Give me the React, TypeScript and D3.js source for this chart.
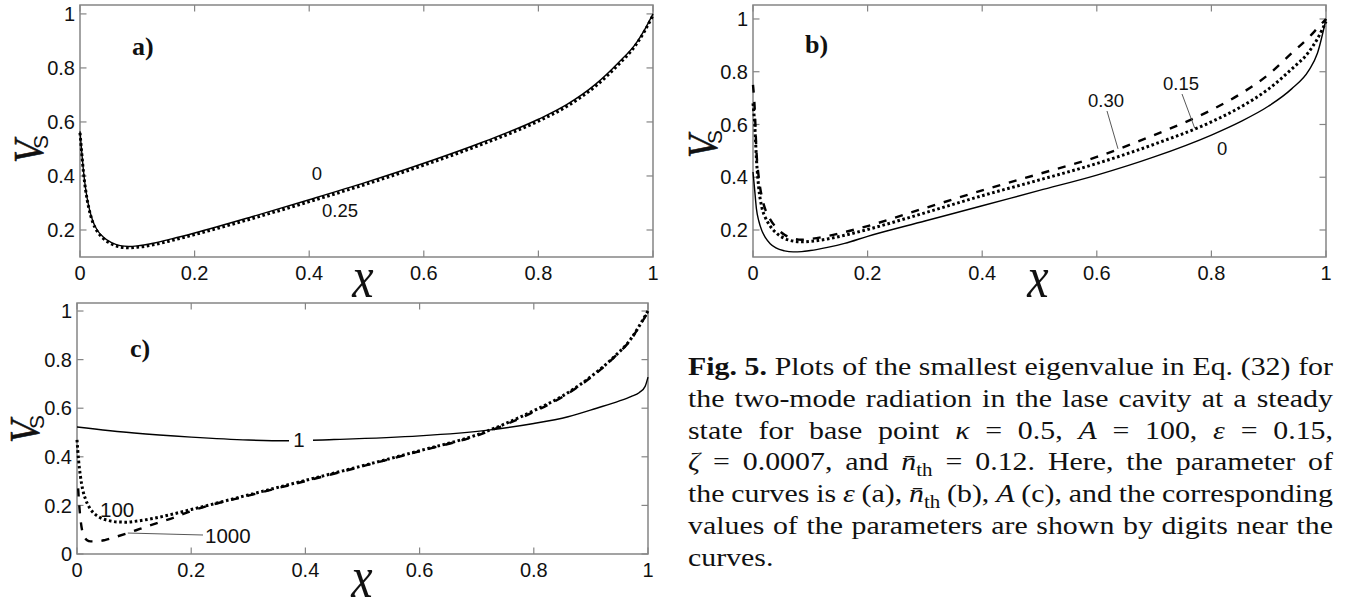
import React, { useEffect, useRef } from "react";
import * as d3 from "d3";

// ---------- data ----------
// common x grid for most curves
const gridX = [0, 0.003, 0.006, 0.01, 0.015, 0.022, 0.03, 0.04, 0.055, 0.07, 0.085, 0.1, 0.13, 0.16, 0.2, 0.3, 0.4, 0.5, 0.6, 0.7, 0.8, 0.85, 0.9, 0.94, 0.97, 0.985, 1];

const xTicks = [0, 0.2, 0.4, 0.6, 0.8, 1];
const xTickLabels = ["0", "0.2", "0.4", "0.6", "0.8", "1"];
const yTicksAB = [0.2, 0.4, 0.6, 0.8, 1];
const yTickLabelsAB = ["0.2", "0.4", "0.6", "0.8", "1"];
const yTicksC = [0, 0.2, 0.4, 0.6, 0.8, 1];
const yTickLabelsC = ["0", "0.2", "0.4", "0.6", "0.8", "1"];

// panel a: parameter ε
const aParams = ["0", "0.25"];
const aEps0 = [0.565, 0.49, 0.42, 0.35, 0.29, 0.235, 0.2, 0.175, 0.153, 0.142, 0.139, 0.141, 0.152, 0.167, 0.189, 0.249, 0.312, 0.377, 0.447, 0.523, 0.61, 0.665, 0.74, 0.82, 0.89, 0.94, 1.0];
const aEps25 = [0.56, 0.485, 0.415, 0.345, 0.285, 0.23, 0.195, 0.17, 0.148, 0.137, 0.134, 0.136, 0.146, 0.161, 0.183, 0.242, 0.305, 0.37, 0.44, 0.516, 0.603, 0.658, 0.733, 0.813, 0.885, 0.935, 0.995];

// panel b: parameter n̄th
const bParams = ["0", "0.15", "0.30"];
const bNth0 = [0.42, 0.35, 0.28, 0.235, 0.2, 0.17, 0.148, 0.132, 0.121, 0.117, 0.118, 0.122, 0.134, 0.149, 0.176, 0.234, 0.292, 0.35, 0.408, 0.477, 0.56, 0.61, 0.67, 0.735, 0.805, 0.87, 1.0];
const bNth15 = [0.68, 0.6, 0.47, 0.36, 0.29, 0.245, 0.215, 0.19, 0.168, 0.158, 0.155, 0.157, 0.166, 0.18, 0.202, 0.265, 0.33, 0.39, 0.452, 0.525, 0.61, 0.665, 0.735, 0.81, 0.875, 0.925, 0.99];
const bNth30 = [0.75, 0.66, 0.5, 0.4, 0.33, 0.275, 0.24, 0.21, 0.182, 0.168, 0.163, 0.166, 0.177, 0.192, 0.215, 0.283, 0.35, 0.413, 0.477, 0.56, 0.655, 0.715, 0.79, 0.87, 0.93, 0.965, 1.0];

// panel c: parameter A
const cParams = ["1", "100", "1000"];
const cA1X = [0, 0.1, 0.2, 0.3, 0.37, 0.45, 0.6, 0.72, 0.8, 0.86, 0.91, 0.95, 0.97, 0.985, 0.995, 1];
const cA1 = [0.523, 0.498, 0.481, 0.469, 0.466, 0.471, 0.486, 0.51, 0.537, 0.565, 0.6, 0.63, 0.648, 0.665, 0.69, 0.728];
const cA100 = [0.47, 0.38, 0.32, 0.265, 0.225, 0.19, 0.167, 0.15, 0.138, 0.132, 0.131, 0.134, 0.145, 0.16, 0.183, 0.243, 0.303, 0.363, 0.425, 0.49, 0.59, 0.65, 0.73, 0.81, 0.885, 0.94, 1.0];
const cA1000X = [0.002, 0.005, 0.008, 0.012, 0.017, 0.024, 0.035, 0.05, 0.07, 0.09, 0.11, 0.14, 0.17, 0.2, 0.3, 0.4, 0.5, 0.6, 0.7, 0.8, 0.85, 0.9, 0.94, 0.97, 0.985, 1];
const cA1000 = [0.27, 0.17, 0.11, 0.075, 0.058, 0.052, 0.052, 0.058, 0.072, 0.087, 0.103, 0.127, 0.15, 0.177, 0.24, 0.3, 0.361, 0.423, 0.487, 0.585, 0.646, 0.727, 0.808, 0.883, 0.937, 0.997];

// caption, one array of words per line; a word is a list of [text, style] pieces
type Piece = [string, string];
const captionLines: Piece[][][] = [
  [[["Fig.", "b"]], [["5.", "b"]], [["Plots", ""]], [["of", ""]], [["the", ""]], [["smallest", ""]], [["eigenvalue", ""]], [["in", ""]], [["Eq.", ""]], [["(32)", ""]], [["for", ""]]],
  [[["the", ""]], [["two-mode", ""]], [["radiation", ""]], [["in", ""]], [["the", ""]], [["lase", ""]], [["cavity", ""]], [["at", ""]], [["a", ""]], [["steady", ""]]],
  [[["state", ""]], [["for", ""]], [["base", ""]], [["point", ""]], [["κ", "i"]], [["=", ""]], [["0.5,", ""]], [["A", "i"]], [["=", ""]], [["100,", ""]], [["ε", "i"]], [["=", ""]], [["0.15,", ""]]],
  [[["ζ", "i"]], [["=", ""]], [["0.0007,", ""]], [["and", ""]], [["n\u0304", "i"], ["th", "sub"]], [["=", ""]], [["0.12.", ""]], [["Here,", ""]], [["the", ""]], [["parameter", ""]], [["of", ""]]],
  [[["the", ""]], [["curves", ""]], [["is", ""]], [["ε", "i"]], [["(a),", ""]], [["n\u0304", "i"], ["th", "sub"]], [["(b),", ""]], [["A", "i"]], [["(c),", ""]], [["and", ""]], [["the", ""]], [["corresponding", ""]]],
  [[["values", ""]], [["of", ""]], [["the", ""]], [["parameters", ""]], [["are", ""]], [["shown", ""]], [["by", ""]], [["digits", ""]], [["near", ""]], [["the", ""]]],
  [[["curves.", ""]]],
];

// ---------- styling ----------
const SERIF = "'Liberation Serif', 'Times New Roman', serif";
const SANS = "'Liberation Sans', Arial, sans-serif";
const FRAME = "#858585";
const INK = "#111";

type LineStyle = "solid" | "dotted" | "dashed";
const styleAttrs = (s: LineStyle) =>
  s === "solid"
    ? { strokeWidth: 1.4, strokeDasharray: undefined }
    : s === "dotted"
    ? { strokeWidth: 3, strokeDasharray: "2.6 2.6" }
    : { strokeWidth: 2.4, strokeDasharray: "8 9" };

function interp(xs: number[], ys: number[], x: number) {
  const i = Math.max(1, d3.bisectLeft(xs, x));
  const t = (x - xs[i - 1]) / (xs[i] - xs[i - 1]);
  return ys[i - 1] + t * (ys[i] - ys[i - 1]);
}

type PanelDef = {
  x0: number; x1: number; y0: number; y1: number;
  yDomain: [number, number];
  yTicks: number[]; yTickLabels: string[];
};

const panelA: PanelDef = { x0: 80, x1: 653, y0: 5, y1: 257, yDomain: [0.1, 1.033], yTicks: yTicksAB, yTickLabels: yTickLabelsAB };
const panelB: PanelDef = { x0: 753, x1: 1326, y0: 5, y1: 257, yDomain: [0.0976, 1.053], yTicks: yTicksAB, yTickLabels: yTickLabelsAB };
const panelC: PanelDef = { x0: 77, x1: 648, y0: 303, y1: 554, yDomain: [0, 1.033], yTicks: yTicksC, yTickLabels: yTickLabelsC };

function scales(p: PanelDef) {
  const x = d3.scaleLinear().domain([0, 1]).range([p.x0, p.x1]);
  const y = d3.scaleLinear().domain(p.yDomain).range([p.y1, p.y0]);
  return { x, y };
}

function Frame({ p }: { p: PanelDef }) {
  const { x, y } = scales(p);
  const tl = 6.5;
  return (
    <g>
      <rect x={p.x0} y={p.y0} width={p.x1 - p.x0} height={p.y1 - p.y0} fill="none" stroke={FRAME} strokeWidth={1.5} />
      {xTicks.map((v) => (
        <g key={"xt" + v} stroke={FRAME} strokeWidth={1.2}>
          <line x1={x(v)} x2={x(v)} y1={p.y1} y2={p.y1 - tl} />
          <line x1={x(v)} x2={x(v)} y1={p.y0} y2={p.y0 + tl} />
        </g>
      ))}
      {p.yTicks.map((v) => (
        <g key={"yt" + v} stroke={FRAME} strokeWidth={1.2}>
          <line x1={p.x0} x2={p.x0 + tl} y1={y(v)} y2={y(v)} />
          <line x1={p.x1} x2={p.x1 - tl} y1={y(v)} y2={y(v)} />
        </g>
      ))}
      {xTicks.map((v, i) => (
        <text key={"xl" + v} x={x(v)} y={p.y1 + 23} textAnchor="middle" fontFamily={SANS} fontSize={20} fill={INK}>
          {xTickLabels[i]}
        </text>
      ))}
      {p.yTicks.map((v, i) => (
        <text key={"yl" + v} x={p.x0 - 5} y={y(v)} dy="0.36em" textAnchor="end" fontFamily={SANS} fontSize={20} fill={INK}>
          {p.yTickLabels[i]}
        </text>
      ))}
    </g>
  );
}

function Curve({ p, xs, ys, s }: { p: PanelDef; xs: number[]; ys: number[]; s: LineStyle }) {
  const { x, y } = scales(p);
  const gen = d3
    .line<number>()
    .x((_, i) => x(xs[i]))
    .y((d) => y(d))
    .curve(d3.curveMonotoneX);
  const a = styleAttrs(s);
  return <path d={gen(ys) || ""} fill="none" stroke="#000" strokeWidth={a.strokeWidth} strokeDasharray={a.strokeDasharray} />;
}

function YLabel({ bx, by }: { bx: number; by: number }) {
  return (
    <g fill={INK}>
      <text transform={`translate(${bx},${by}) rotate(-90) scale(0.88,1)`} fontFamily={SERIF} fontStyle="italic" fontSize={42} stroke={INK} strokeWidth={0.6}>
        V
      </text>
      <text transform={`translate(${bx + 5},${by - 14}) rotate(-90)`} fontFamily={SANS} fontSize={21}>
        S
      </text>
    </g>
  );
}

function XLabel({ cx, by }: { cx: number; by: number }) {
  return (
    <text transform={`translate(${cx},${by}) scale(0.8,1)`} textAnchor="middle" fontFamily={SERIF} fontStyle="italic" fontSize={60} fill={INK}>
      x
    </text>
  );
}

function Caption() {
  const ref = useRef<SVGGElement>(null);
  useEffect(() => {
    const left = 688, right = 1333, first = 375, gap = 31.8, fs = 26;
    const width = right - left;
    const g = d3.select(ref.current);
    g.selectAll("*").remove();
    const lines = captionLines.map((words) => {
      const nodes = words.map((pieces) => {
        const t = g.append("text").attr("font-family", SERIF).attr("font-size", fs).attr("fill", INK);
        pieces.forEach(([txt, st]) => {
          const ts = t.append("tspan").text(txt);
          if (st === "b") ts.attr("font-weight", "bold");
          if (st === "i") ts.attr("font-style", "italic");
          if (st === "sub") ts.attr("font-size", fs * 0.7).attr("dy", fs * 0.22);
        });
        return t;
      });
      const widths = nodes.map((n) => (n.node() as SVGTextElement).getComputedTextLength());
      return { nodes, widths };
    });
    const sp0 = fs * 0.36;
    const ks = lines.slice(0, -1).map((l) => (width - sp0 * (l.nodes.length - 1)) / d3.sum(l.widths));
    const k = d3.median(ks) || 1;
    lines.forEach((l, li) => {
      const yy = first + li * gap;
      const total = k * d3.sum(l.widths);
      const gaps = l.nodes.length - 1;
      const sp = li < lines.length - 1 && gaps > 0 ? (width - total) / gaps : sp0;
      let xx = left;
      l.nodes.forEach((n, i) => {
        n.attr("transform", `translate(${xx},${yy}) scale(${k},1)`);
        xx += l.widths[i] * k + sp;
      });
    });
  }, []);
  return <g ref={ref} />;
}

export default function App() {
  const sb = scales(panelB);
  const sc = scales(panelC);
  const labA = { fontFamily: SANS, fontSize: 18.5, fill: INK };
  const labC = { fontFamily: SANS, fontSize: 20.5, fill: INK };
  const leader = { stroke: "#444", strokeWidth: 0.9 };

  // leader line targets on the curves
  const b30x = 0.637, b15x = 0.771, c1000x = 0.089;

  return (
    <svg width={1350} height={603} viewBox="0 0 1350 603" style={{ position: "absolute", left: 0, top: 0, background: "#fff" }}>
      <rect width={1350} height={603} fill="#fff" />

      {/* panel a */}
      <Frame p={panelA} />
      <Curve p={panelA} xs={gridX} ys={aEps25} s="dotted" />
      <Curve p={panelA} xs={gridX} ys={aEps0} s="solid" />
      <text x={317} y={180} textAnchor="middle" {...labA}>{aParams[0]}</text>
      <text x={322} y={217} {...labA}>{aParams[1]}</text>
      <text x={132} y={55} fontFamily={SERIF} fontWeight="bold" fontSize={26} fill={INK}>a)</text>
      <YLabel bx={43} by={163} />
      <XLabel cx={363} by={297} />

      {/* panel b */}
      <Frame p={panelB} />
      <Curve p={panelB} xs={gridX} ys={bNth30} s="dashed" />
      <Curve p={panelB} xs={gridX} ys={bNth15} s="dotted" />
      <Curve p={panelB} xs={gridX} ys={bNth0} s="solid" />
      <text x={1088} y={107} {...labA}>{bParams[2]}</text>
      <text x={1163} y={90} {...labA}>{bParams[1]}</text>
      <text x={1217} y={155} {...labA}>{bParams[0]}</text>
      <line x1={1107} y1={111} x2={sb.x(b30x)} y2={sb.y(interp(gridX, bNth30, b30x))} {...leader} />
      <line x1={1182} y1={94} x2={sb.x(b15x)} y2={sb.y(interp(gridX, bNth15, b15x))} {...leader} />
      <text x={805} y={53} fontFamily={SERIF} fontWeight="bold" fontSize={26} fill={INK}>b)</text>
      <YLabel bx={717} by={158} />
      <XLabel cx={1038} by={297} />

      {/* panel c */}
      <Frame p={panelC} />
      <Curve p={panelC} xs={cA1000X} ys={cA1000} s="dashed" />
      <Curve p={panelC} xs={gridX} ys={cA100} s="dotted" />
      <Curve p={panelC} xs={cA1X} ys={cA1} s="solid" />
      <rect x={289} y={430} width={24} height={20} fill="#fff" />
      <text x={299} y={447} textAnchor="middle" {...labC}>{cParams[0]}</text>
      <text x={100} y={517} {...labC}>{cParams[1]}</text>
      <text x={205} y={543} {...labC}>{cParams[2]}</text>
      <line x1={203} y1={535} x2={sc.x(c1000x)} y2={sc.y(interp(cA1000X, cA1000, c1000x))} {...leader} />
      <text x={130} y={357} fontFamily={SERIF} fontWeight="bold" fontSize={26} fill={INK}>c)</text>
      <YLabel bx={39} by={443} />
      <XLabel cx={362} by={597} />

      <Caption />
    </svg>
  );
}
